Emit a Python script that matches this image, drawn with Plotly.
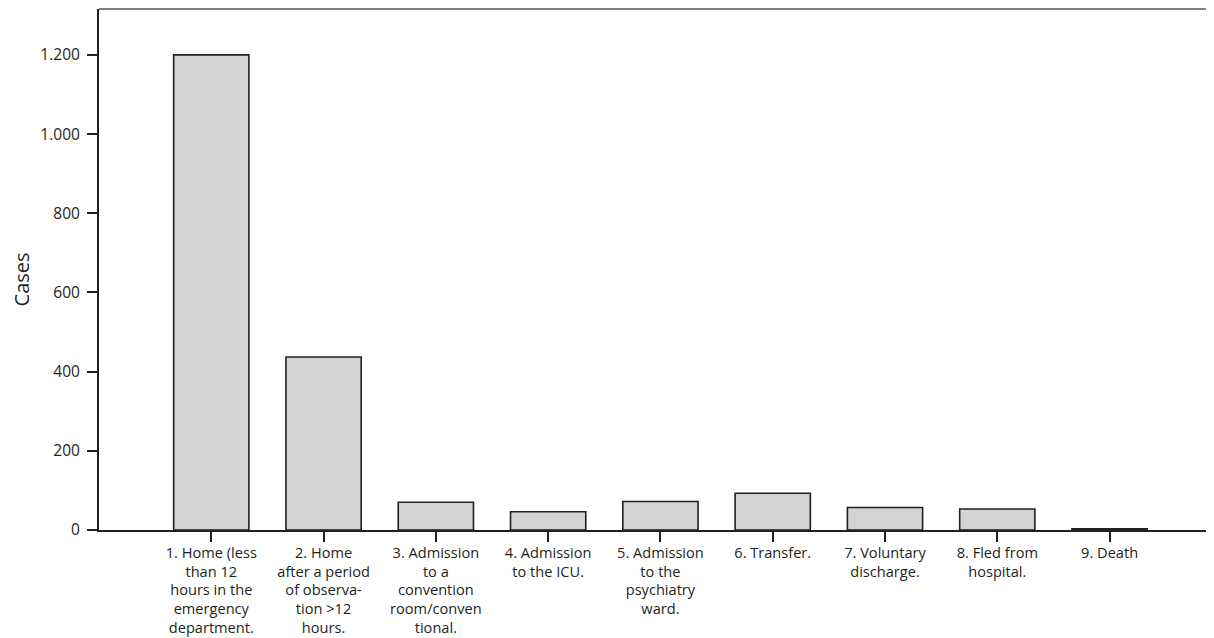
import plotly.graph_objects as go

categories = [
    "1. Home (less<br>than 12<br>hours in the<br>emergency<br>department.",
    "2. Home<br>after a period<br>of observa-<br>tion >12<br>hours.",
    "3. Admission<br>to a<br>convention<br>room/conven<br>tional.",
    "4. Admission<br>to the ICU.",
    "5. Admission<br>to the<br>psychiatry<br>ward.",
    "6. Transfer.",
    "7. Voluntary<br>discharge.",
    "8. Fled from<br>hospital.",
    "9. Death",
]
cases = [1200, 437, 70, 46, 72, 93, 57, 53, 3]
y_ticks = [0, 200, 400, 600, 800, 1000, 1200]
y_tick_labels = ["0", "200", "400", "600", "800", "1.000", "1.200"]

positions = list(range(len(categories)))
FONT = "Open Sans"
DARK = "#231f20"

fig = go.Figure()
fig.add_trace(go.Bar(
    x=positions,
    y=cases,
    width=0.67,
    marker=dict(color="#d1d3d4", line=dict(color=DARK, width=1.6)),
    hoverinfo="skip",
))

fig.update_layout(
    width=1206,
    height=630,
    margin=dict(l=91, r=0, t=1, b=108),
    paper_bgcolor="white",
    plot_bgcolor="white",
    showlegend=False,
    font=dict(family=FONT, color=DARK, size=14),
    xaxis=dict(
        range=[-1.0, 8.93],
        tickmode="array",
        tickvals=positions,
        ticktext=categories,
        ticks="outside",
        ticklen=10,
        tickwidth=2,
        tickcolor=DARK,
        ticklabelstandoff=-2,
        showline=True,
        linecolor=DARK,
        linewidth=2,
        showgrid=False,
        zeroline=False,
        automargin=False,
        tickfont=dict(family=FONT, size=14.6, color=DARK),
        fixedrange=True,
    ),
    yaxis=dict(
        range=[0, 1316],
        tickmode="array",
        tickvals=y_ticks,
        ticktext=y_tick_labels,
        ticks="outside",
        ticklen=10,
        tickwidth=2,
        tickcolor=DARK,
        ticklabelstandoff=4,
        showline=True,
        linecolor=DARK,
        linewidth=2,
        showgrid=False,
        zeroline=False,
        automargin=False,
        tickfont=dict(family=FONT, size=15.5, color=DARK),
        fixedrange=True,
    ),
    shapes=[dict(
        type="line", xref="paper", yref="paper",
        x0=0, x1=1, y0=1, y1=1,
        line=dict(color="#808080", width=2),
    )],
    annotations=[dict(
        text="Cases", xref="paper", yref="paper",
        x=-0.0695, y=0.48, xanchor="center", yanchor="middle",
        textangle=-90, showarrow=False,
        font=dict(family=FONT, size=20, color=DARK),
    )],
)

fig.write_html("out.html")
